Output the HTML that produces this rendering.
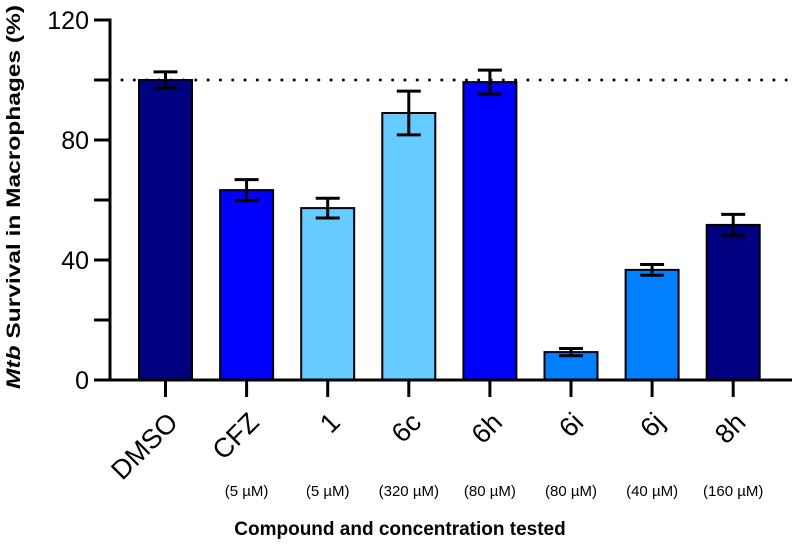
<!DOCTYPE html>
<html><head><meta charset="utf-8"><style>
body{margin:0;background:#fff;}
svg{display:block;font-family:"Liberation Sans",Arial,sans-serif;}
</style></head><body>
<svg id="chart" width="792" height="544" viewBox="0 0 792 544" xmlns="http://www.w3.org/2000/svg"></svg>
<script>
const categories=["DMSO","CFZ","1","6c","6h","6i","6j","8h"];
const concentrations=["","(5 µM)","(5 µM)","(320 µM)","(80 µM)","(80 µM)","(40 µM)","(160 µM)"];
const values=[100,63.3,57.3,89,99.3,9.3,36.7,51.7];
const errors=[2.7,3.5,3.3,7.3,4,1.2,1.8,3.5];
const colors=["#000080","#0000ff","#66ccff","#66ccff","#0000ff","#0080ff","#0080ff","#000080"];
const yTicks=[0,20,40,60,80,100,120];
const yLabels=[0,40,80,120];
const refValue=100;

const NS="http://www.w3.org/2000/svg";
const svg=document.getElementById("chart");
const y0=380,yTop=20,yMax=120;
const y=v=>y0-(v/yMax)*(y0-yTop);
const x=i=>165.5+i*81.1;
const bw=53;
function mk(t,a){const e=document.createElementNS(NS,t);for(const k in a)e.setAttribute(k,a[k]);svg.appendChild(e);return e;}

let rl=mk("line",{x1:122,x2:792,y1:y(refValue),y2:y(refValue),stroke:"#000","stroke-width":3,"stroke-dasharray":"0 12.3","stroke-linecap":"round"});



categories.forEach((c,i)=>{
  const cx=x(i);
  const r=mk("rect",{x:cx-bw/2,y:y(values[i]),width:bw,height:y0-y(values[i]),fill:colors[i],stroke:"#000","stroke-width":2});
  
  
  const hi=y(values[i]+errors[i]),lo=y(values[i]-errors[i]);
  const g=document.createElementNS(NS,"g");svg.appendChild(g);
  
  
  [[cx,hi,cx,lo],[cx-12,hi,cx+12,hi],[cx-12,lo,cx+12,lo]].forEach(p=>{
    const l=document.createElementNS(NS,"line");
    l.setAttribute("x1",p[0]);l.setAttribute("y1",p[1]);l.setAttribute("x2",p[2]);l.setAttribute("y2",p[3]);
    l.setAttribute("stroke","#000");l.setAttribute("stroke-width",3);g.appendChild(l);
  });
  const tk=mk("line",{x1:cx,x2:cx,y1:y0,y2:y0+17,stroke:"#000","stroke-width":3});
  
  
  const ax_=cx+14, ay_=y0+44;
  const t=mk("text",{x:ax_,y:ay_,"font-size":27,"text-anchor":"end",transform:`rotate(-45 ${ax_} ${ay_})`});
  t.textContent=c;
  
  
  if(concentrations[i]){
    const s=mk("text",{x:cx,y:496,"font-size":15,"text-anchor":"middle"});
    s.textContent=concentrations[i];
    
    
  }
});

let ax=mk("line",{x1:110,x2:110,y1:yTop-1.5,y2:y0+1.5,stroke:"#000","stroke-width":3});


let bx=mk("line",{x1:94,x2:792,y1:y0,y2:y0,stroke:"#000","stroke-width":3});


yTicks.forEach(v=>{
  const l=mk("line",{x1:94,x2:110,y1:y(v),y2:y(v),stroke:"#000","stroke-width":3});
  
  
});
yLabels.forEach(v=>{
  const t=mk("text",{x:89,y:y(v)+9,"font-size":25,"text-anchor":"end"});
  t.textContent=v;
  
  
});
const yt=mk("text",{x:0,y:0,"font-size":19,"font-weight":"bold","text-anchor":"middle",textLength:384,lengthAdjust:"spacingAndGlyphs",transform:"translate(20 197) rotate(-90)"});
yt.innerHTML='<tspan font-style="italic">Mtb</tspan> Survival in Macrophages (%)';


const xt=mk("text",{x:400,y:535,"font-size":19,"font-weight":"bold","text-anchor":"middle"});
xt.textContent="Compound and concentration tested";


</script>
</body></html>
